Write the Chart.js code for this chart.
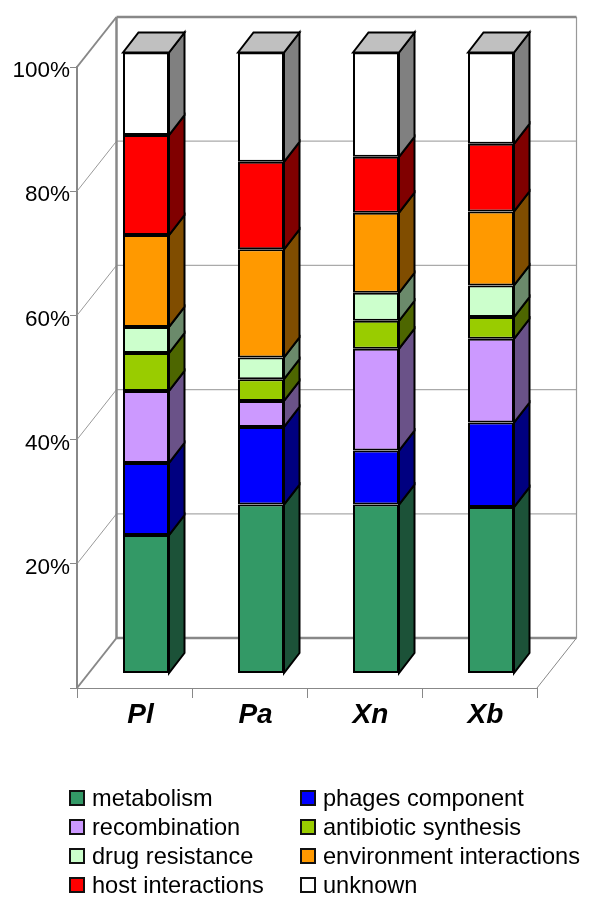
<!DOCTYPE html>
<html>
<head>
<meta charset="utf-8">
<title>Functional categories</title>
<script src="https://cdn.jsdelivr.net/npm/chart.js@4"></script>
<style>
    html, body { margin: 0; padding: 0; background: #fff; }
    #wrap { position: relative; width: 600px; height: 911px; overflow: hidden; }
    #legend { position: absolute; left: 0; top: 0; font: 23.6px "Liberation Sans", Arial, sans-serif; color: #000; }
    .item { position: absolute; white-space: nowrap; height: 26px; line-height: 26px; }
    .box { position: absolute; left: -23px; top: 5px; width: 12px; height: 12px; border: 2px solid #111; }
</style>
</head>
<body>
<div id="wrap">
    <canvas id="stackChart" width="600" height="911"></canvas>
    <div id="legend"></div>
</div>
<script>
const genomes = ['Pl', 'Pa', 'Xn', 'Xb'];
const categories = ['metabolism', 'phages component', 'recombination', 'antibiotic synthesis',
    'drug resistance', 'environment interactions', 'host interactions', 'unknown'];

// percent of each genome
const metabolism = [22.3, 27.2, 27.2, 26.8];
const phages = [11.6, 12.5, 8.7, 13.6];
const recombination = [11.6, 4.2, 16.4, 13.5];
const antibiotic = [6.1, 3.5, 4.5, 3.5];
const drug = [4.2, 3.5, 4.5, 5.1];
const environment = [14.8, 17.4, 12.9, 11.9];
const host = [16.1, 14.1, 9.0, 10.9];
const unknown = [13.3, 17.6, 16.8, 14.7];

const seriesValues = [metabolism, phages, recombination, antibiotic, drug, environment, host, unknown];
const frontColors = ['#339966', '#0000ff', '#cc99ff', '#99cc00', '#ccffcc', '#ff9900', '#ff0000', '#ffffff'];
const sideColors = ['#1c5238', '#000080', '#6a5288', '#4d6600', '#6b8a6b', '#804d00', '#800000', '#808080'];

// wall depth and bar depth of the fake 3D box
const wall = { dx: 39.5, dy: -50 };
const barShift = { dx: 11.5, dy: -14.5 };
const barDepth = { dx: 15.5, dy: -20 };

function line(ctx, x1, y1, x2, y2, color, width) {
    ctx.strokeStyle = color;
    ctx.lineWidth = width;
    ctx.beginPath();
    ctx.moveTo(x1, y1);
    ctx.lineTo(x2, y2);
    ctx.stroke();
}

function face(ctx, points, color) {
    ctx.fillStyle = color;
    ctx.strokeStyle = '#000';
    ctx.lineWidth = 2;
    ctx.lineJoin = 'miter';
    ctx.beginPath();
    points.forEach(function (p, i) {
        if (i === 0) ctx.moveTo(p[0], p[1]); else ctx.lineTo(p[0], p[1]);
    });
    ctx.closePath();
    ctx.fill();
    ctx.stroke();
}

const box3d = {
    id: 'box3d',
    beforeDatasetsDraw(chart) {
        const ctx = chart.ctx;
        const xs = chart.scales.x;
        const ys = chart.scales.y;
        const left = xs.left, right = xs.right, top = ys.top, bottom = ys.bottom;
        const backL = left + wall.dx, backR = right + wall.dx;

        ctx.save();
        // gridlines run along the side wall and then across the back wall
        ys.ticks.forEach(function (t) {
            if (t.value === 0 || t.value === 100) return;
            const y = ys.getPixelForValue(t.value);
            line(ctx, left, y, backL, y + wall.dy, '#999', 1);
            line(ctx, backL, y + wall.dy, backR, y + wall.dy, '#aaa', 1.2);
        });
        line(ctx, right, bottom, backR, bottom + wall.dy, '#888', 1);
        line(ctx, backR, top + wall.dy, backR, bottom + wall.dy, '#999', 1.2);
        line(ctx, left, top, backL, top + wall.dy, '#888', 2);
        line(ctx, left, bottom, backL, bottom + wall.dy, '#888', 2);
        line(ctx, backL, top + wall.dy, backL, bottom + wall.dy, '#888', 2.5);
        line(ctx, backL, top + wall.dy, backR, top + wall.dy, '#888', 2.5);
        line(ctx, backL, bottom + wall.dy, backR, bottom + wall.dy, '#888', 2.5);
        ctx.restore();

        ctx.save();
        ctx.translate(barShift.dx, barShift.dy);
    },
    afterDatasetsDraw(chart) {
        const ctx = chart.ctx;
        const last = chart.data.datasets.length - 1;
        chart.data.datasets.forEach(function (ds, i) {
            chart.getDatasetMeta(i).data.forEach(function (bar) {
                const r = bar.x + bar.width / 2;
                const l = bar.x - bar.width / 2;
                face(ctx, [[r, bar.y], [r + barDepth.dx, bar.y + barDepth.dy],
                    [r + barDepth.dx, bar.base + barDepth.dy], [r, bar.base]], sideColors[i]);
                if (i === last) {
                    face(ctx, [[l, bar.y], [l + barDepth.dx, bar.y + barDepth.dy],
                        [r + barDepth.dx, bar.y + barDepth.dy], [r, bar.y]], '#c0c0c0');
                }
            });
        });
        ctx.restore();
    }
};

const ctx = document.getElementById('stackChart').getContext('2d');
new Chart(ctx, {
    type: 'bar',
    plugins: [box3d],
    data: {
        labels: genomes,
        datasets: categories.map(function (name, i) {
            return {
                label: name,
                data: seriesValues[i],
                backgroundColor: frontColors[i],
                borderColor: '#000',
                borderWidth: 2,
                borderSkipped: false,
                barPercentage: 0.4,
                categoryPercentage: 1,
                clip: false
            };
        })
    },
    options: {
        responsive: false,
        animation: false,
        layout: { padding: { top: 67, right: 63 } },
        plugins: { legend: { display: false }, tooltip: { enabled: false } },
        scales: {
            x: {
                stacked: true,
                afterFit(scale) { scale.height = 223; },
                border: { color: '#888', width: 1 },
                grid: { drawOnChartArea: false, color: '#888', tickLength: 10 },
                ticks: {
                    color: '#000',
                    labelOffset: 6,
                    padding: 0,
                    maxRotation: 0,
                    font: { family: '"Liberation Sans", Arial, sans-serif', size: 28, weight: 'bold', style: 'italic' }
                }
            },
            y: {
                stacked: true,
                min: 0,
                max: 100,
                afterFit(scale) { scale.width = 77; },
                border: { color: '#888', width: 2 },
                grid: { drawOnChartArea: false, color: '#888', tickLength: 7 },
                ticks: {
                    stepSize: 20,
                    color: '#000',
                    padding: 0,
                    labelOffset: 4,
                    font: { family: '"Liberation Sans", Arial, sans-serif', size: 22.5 },
                    callback: function (value) { return value === 0 ? '' : value + '%'; }
                }
            }
        }
    }
});

// two column legend under the chart
const legend = document.getElementById('legend');
categories.forEach(function (name, i) {
    const item = document.createElement('div');
    item.className = 'item';
    item.style.left = (i % 2 === 0 ? 92 : 323) + 'px';
    item.style.top = (785 + Math.floor(i / 2) * 29) + 'px';
    const box = document.createElement('span');
    box.className = 'box';
    box.style.background = frontColors[i];
    item.appendChild(box);
    item.appendChild(document.createTextNode(name));
    legend.appendChild(item);
});
</script>
</body>
</html>
